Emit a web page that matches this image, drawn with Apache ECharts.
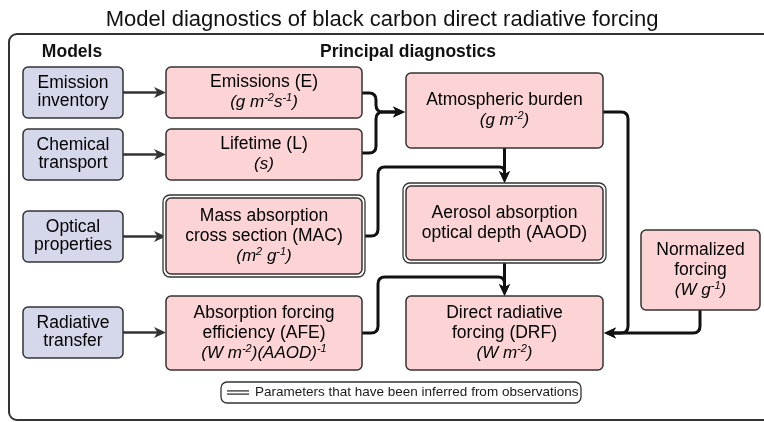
<!DOCTYPE html>
<html>
<head>
<meta charset="utf-8">
<script src="https://cdn.jsdelivr.net/npm/echarts@6/dist/echarts.min.js"></script>
<style>
  html, body { margin: 0; padding: 0; background: #fff; }
  #chart { width: 764px; height: 422px; }
</style>
</head>
<body>
<div id="chart"></div>
<script>
const FONT = '"Liberation Sans", Arial, sans-serif';
const PINK = '#fcd4d6';
const BLUE = '#d5d8eb';
const EDGE = '#333';

// models (left column)
const modelLabels = ['Emission\ninventory', 'Chemical\ntransport', 'Optical\nproperties', 'Radiative\ntransfer'];

// principal diagnostics
const diagNames = [
    'Emissions (E)',
    'Lifetime (L)',
    'Mass absorption\ncross section (MAC)',
    'Absorption forcing\nefficiency (AFE)',
    'Atmospheric burden',
    'Aerosol absorption\noptical depth (AAOD)',
    'Direct radiative\nforcing (DRF)',
    'Normalized\nforcing'
];
// units as rich text: u = italic, s = superscript
const diagUnits = [
    '{u|(g m}{s|-2}{u|s}{s|-1}{u|)}',
    '{u|(s)}',
    '{u|(m}{s|2}{u| g}{s|-1}{u|)}',
    '{u|(W m}{s|-2}{u|)(AAOD)}{s|-1}',
    '{u|(g m}{s|-2}{u|)}',
    '',
    '{u|(W m}{s|-2}{u|)}',
    '{u|(W g}{s|-1}{u|)}'
];
// inferred from observations -> double border
const inferred = [false, false, true, false, false, true, false, false];

// model i feeds diagnostic modelLinks[i]
const modelLinks = [0, 1, 2, 3];

const headers = ['Models', 'Principal diagnostics'];
const legendText = 'Parameters that have been inferred from observations';
const titleText = 'Model diagnostics of black carbon direct radiative forcing';

// ---- layout (axis units = px of the 764x422 frame) ----
const modelBoxes = [[23, 67, 123, 118], [23, 129, 123, 180], [23, 211, 123, 262], [23, 307, 123, 358]];
const diagBoxes = [
    [166, 67, 362, 118], [166, 129, 362, 180], [166, 198, 362, 274], [166, 296, 362, 370],
    [406, 73, 603, 148], [406, 186, 603, 260], [406, 296, 603, 370], [641, 230, 760, 310]
];
const flowRoutes = [
    [[362, 93], [376, 93], [376, 112], [405, 112]],
    [[362, 153], [376, 153], [376, 112], [405, 112]],
    [[504.5, 148], [504.5, 183]],
    [[362, 236], [378, 236], [378, 167], [504.5, 167], [504.5, 183]],
    [[504.5, 263], [504.5, 296]],
    [[362, 333], [378, 333], [378, 277], [504.5, 277], [504.5, 296]],
    [[603, 112], [628, 112], [628, 333], [604, 333]],
    [[700, 310], [700, 333], [604, 333]]
];
const headerPos = [[72, 52], [408, 52]];

const modelArrows = modelLinks.map((d, i) => {
    const m = modelBoxes[i], b = diagBoxes[d];
    const y = (m[1] + m[3]) / 2;
    return [[m[2], y], [b[0], y]];
});

function roundPath(pts, r) {
    let d = 'M' + pts[0][0] + ' ' + pts[0][1];
    for (let k = 1; k < pts.length - 1; k++) {
        const a = pts[k - 1], p = pts[k], b = pts[k + 1];
        const d1 = Math.hypot(p[0] - a[0], p[1] - a[1]);
        const d2 = Math.hypot(b[0] - p[0], b[1] - p[1]);
        const rr = Math.min(r, d1 / 2, d2 / 2);
        const s = [p[0] + (a[0] - p[0]) / d1 * rr, p[1] + (a[1] - p[1]) / d1 * rr];
        const e = [p[0] + (b[0] - p[0]) / d2 * rr, p[1] + (b[1] - p[1]) / d2 * rr];
        d += ' L' + s[0] + ' ' + s[1] + ' Q' + p[0] + ' ' + p[1] + ' ' + e[0] + ' ' + e[1];
    }
    const last = pts[pts.length - 1];
    d += ' L' + last[0] + ' ' + last[1];
    return d;
}

function arrowHead(tip, from, len, half, color) {
    const dx = tip[0] - from[0], dy = tip[1] - from[1];
    const l = Math.hypot(dx, dy), ux = dx / l, uy = dy / l;
    const bx = tip[0] - ux * len, by = tip[1] - uy * len;
    const nx = tip[0] - ux * len * 0.72, ny = tip[1] - uy * len * 0.72;
    return {
        type: 'polygon',
        shape: { points: [tip, [bx - uy * half, by + ux * half], [nx, ny], [bx + uy * half, by - ux * half]] },
        style: { fill: color }
    };
}

function connector(route, api, width, color) {
    const pts = route.map(p => api.coord(p));
    const n = pts.length;
    const tip = pts[n - 1], prev = pts[n - 2];
    const l = Math.hypot(tip[0] - prev[0], tip[1] - prev[1]);
    const cut = 6;
    const end = [tip[0] - (tip[0] - prev[0]) / l * cut, tip[1] - (tip[1] - prev[1]) / l * cut];
    const linePts = pts.slice(0, n - 1).concat([end]);
    return [
        { type: 'path', shape: { pathData: roundPath(linePts, 7) }, style: { fill: null, stroke: color, lineWidth: width, lineJoin: 'round' } },
        arrowHead(tip, prev, 12, 5.5, color)
    ];
}

const richText = {
    n: { fontFamily: FONT, fontSize: 17.5, lineHeight: 20, color: '#1a1a1a' },
    m: { fontFamily: FONT, fontSize: 17.5, lineHeight: 18, color: '#1a1a1a' },
    u: { fontFamily: FONT, fontSize: 17, fontStyle: 'italic', lineHeight: 20, color: '#1a1a1a' },
    s: { fontFamily: FONT, fontSize: 11, fontStyle: 'italic', lineHeight: 8, verticalAlign: 'top', color: '#1a1a1a' }
};

function renderBox(params, api) {
    const kind = api.value(5);
    const i = api.value(4);
    const a = api.coord([api.value(0), api.value(1)]);
    const b = api.coord([api.value(2), api.value(3)]);
    const x = a[0], y = a[1], w = b[0] - a[0], h = b[1] - a[1];
    const children = [];
    if (kind === 1 && inferred[i]) {
        children.push({ type: 'rect', shape: { x: x - 3, y: y - 3, width: w + 6, height: h + 6, r: 7 },
            style: { fill: '#fff', stroke: EDGE, lineWidth: 1.3 } });
    }
    children.push({ type: 'rect', shape: { x: x, y: y, width: w, height: h, r: 5 },
        style: { fill: kind === 1 ? PINK : BLUE, stroke: EDGE, lineWidth: 1.5 } });
    let text;
    if (kind === 1) {
        text = diagNames[i].split('\n').map(s => '{n|' + s + '}').join('\n');
        if (diagUnits[i]) text += '\n' + diagUnits[i];
    } else {
        text = modelLabels[i].split('\n').map(s => '{m|' + s + '}').join('\n');
    }
    children.push({ type: 'text', style: { text: text, x: x + w / 2, y: y + h / 2, align: 'center', verticalAlign: 'middle', rich: richText } });
    return { type: 'group', children: children };
}

function renderFlow(params, api) {
    const i = api.value(2);
    const isModel = api.value(3) === 0;
    const route = isModel ? modelArrows[i] : flowRoutes[i];
    return { type: 'group', children: isModel ? connector(route, api, 2.5, '#333') : connector(route, api, 3, '#111') };
}

function renderHeader(params, api) {
    const p = api.coord([api.value(0), api.value(1)]);
    return { type: 'text', style: { text: headers[api.value(2)], x: p[0], y: p[1], align: 'center', verticalAlign: 'middle',
        font: 'bold 17.5px ' + FONT, fill: '#111' } };
}

function renderFrame(params, api) {
    const a = api.coord([9, 34]), b = api.coord([776, 420]);
    const la = api.coord([221, 382]), lb = api.coord([581, 403]);
    const ly = (la[1] + lb[1]) / 2;
    return { type: 'group', children: [
        { type: 'rect', shape: { x: a[0], y: a[1], width: b[0] - a[0], height: b[1] - a[1], r: 8 },
            style: { fill: null, stroke: '#333', lineWidth: 2 } },
        { type: 'rect', shape: { x: la[0], y: la[1], width: lb[0] - la[0], height: lb[1] - la[1], r: 6 },
            style: { fill: '#fff', stroke: '#333', lineWidth: 1.3 } },
        { type: 'line', shape: { x1: la[0] + 6, y1: ly - 1.6, x2: la[0] + 28, y2: ly - 1.6 }, style: { stroke: '#333', lineWidth: 1.3 } },
        { type: 'line', shape: { x1: la[0] + 6, y1: ly + 1.6, x2: la[0] + 28, y2: ly + 1.6 }, style: { stroke: '#333', lineWidth: 1.3 } },
        { type: 'text', style: { text: legendText, x: la[0] + 34, y: ly, align: 'left', verticalAlign: 'middle',
            font: '13.5px ' + FONT, fill: '#1a1a1a' } }
    ] };
}

const boxData = modelBoxes.map((b, i) => b.concat([i, 0])).concat(diagBoxes.map((b, i) => b.concat([i, 1])));
const flowData = modelArrows.map((r, i) => [r[0][0], r[0][1], i, 0]).concat(flowRoutes.map((r, i) => [r[0][0], r[0][1], i, 1]));

const chart = echarts.init(document.getElementById('chart'));
chart.setOption({
    animation: false,
    title: {
        text: titleText, left: 'center', top: 4,
        textStyle: { fontFamily: FONT, fontSize: 22, fontWeight: 'normal', color: '#111' }
    },
    grid: { left: 0, right: 0, top: 0, bottom: 0 },
    xAxis: { type: 'value', min: 0, max: 764, show: false },
    yAxis: { type: 'value', min: 0, max: 422, inverse: true, show: false },
    series: [
        { type: 'custom', renderItem: renderFrame, data: [[9, 34]], silent: true },
        { type: 'custom', renderItem: renderHeader, data: headerPos.map((p, i) => p.concat([i])), silent: true },
        { type: 'custom', renderItem: renderFlow, data: flowData, encode: { x: 0, y: 1 }, silent: true },
        { type: 'custom', renderItem: renderBox, data: boxData, encode: { x: [0, 2], y: [1, 3] }, silent: true }
    ]
});
</script>
</body>
</html>
